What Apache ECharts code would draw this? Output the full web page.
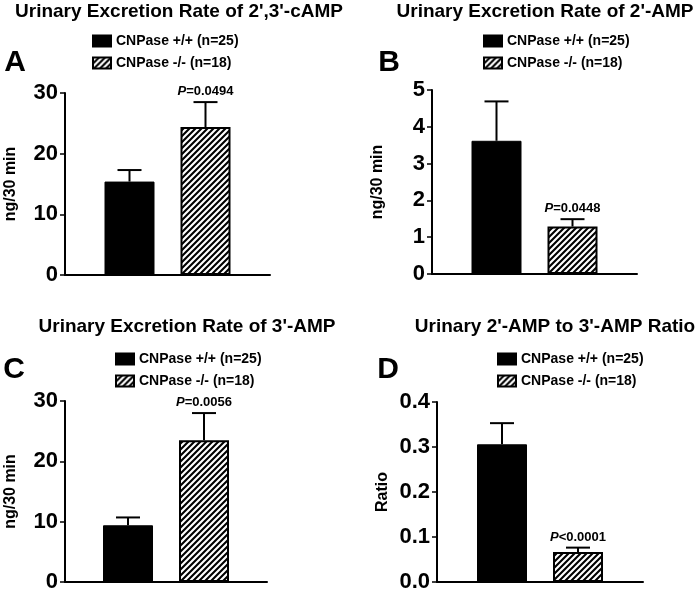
<!DOCTYPE html>
<html><head><meta charset="utf-8">
<script src="https://cdn.jsdelivr.net/npm/echarts@6/dist/echarts.min.js"></script>
<style>html,body{margin:0;padding:0;background:#fff}#c{width:700px;height:593px}</style>
</head><body><div id="c"></div>
<script>
// ---- data ----
const groups = ['CNPase +/+ (n=25)', 'CNPase -/- (n=18)'];
const panelTitles = ["Urinary Excretion Rate of 2',3'-cAMP", "Urinary Excretion Rate of 2'-AMP", "Urinary Excretion Rate of 3'-AMP", "Urinary 2'-AMP to 3'-AMP Ratio"];
const panelLetters = ['A', 'B', 'C', 'D'];
const yNames = ['ng/30 min', 'ng/30 min', 'ng/30 min', 'Ratio'];
const yMax = [30, 5, 30, 0.4];
const yInterval = [10, 1, 10, 0.1];
const yDecimals = [0, 0, 0, 1];
const meanWT = [15.4, 3.62, 9.4, 0.306];
const semWT = [1.9, 1.07, 1.3, 0.047];
const meanKO = [24.4, 1.29, 23.5, 0.0667];
const semKO = [4.1, 0.2, 4.5, 0.0097];
const pLabels = ['=0.0494', '=0.0448', '=0.0056', '<0.0001'];

// ---- layout / style ----
const FONT = 'Liberation Sans, Arial, sans-serif';
const grids = [
  {left: 65, top: 93, width: 205, height: 182},
  {left: 432, top: 90, width: 205, height: 184},
  {left: 65, top: 401, width: 202, height: 181},
  {left: 437, top: 402, width: 206, height: 180}
];
const titlePos = [[179, 12], [545, 12], [187, 327], [555, 327]];
const letterPos = [[15, 63], [389, 63], [14, 370], [388, 370]];
const legendPos = [[87, 29], [478, 29], [110, 347], [492, 347]];
const BAR_W = 50, BAR_GAP = 26, CAP = 24;
const OFFSET = (BAR_W + BAR_GAP) / 2;

function hatch() {
  const s = 6;
  const c = document.createElement('canvas');
  c.width = c.height = s;
  const g = c.getContext('2d');
  g.fillStyle = '#fff'; g.fillRect(0, 0, s, s);
  g.strokeStyle = '#000'; g.lineWidth = 2.1;
  g.beginPath();
  g.moveTo(0, s); g.lineTo(s, 0);
  g.moveTo(-1, 1); g.lineTo(1, -1);
  g.moveTo(s - 1, s + 1); g.lineTo(s + 1, s - 1);
  g.stroke();
  return c;
}
const pattern = {image: hatch(), repeat: 'repeat'};

const option = {
  backgroundColor: '#fff',
  animation: false,
  textStyle: {fontFamily: FONT},
  grid: grids,
  legend: legendPos.map((p, i) => ({
    data: groups, orient: 'vertical', left: p[0], top: p[1],
    itemWidth: 18, itemHeight: 11, itemGap: 8, icon: 'rect',
    textStyle: {fontFamily: FONT, fontSize: 14, fontWeight: 'bold', color: '#000'},
    selectedMode: false
  })),
  xAxis: grids.map((g, i) => ({
    type: 'category', gridIndex: i, data: [''],
    axisLine: {lineStyle: {color: '#000', width: 2}},
    axisTick: {show: false}, axisLabel: {show: false}
  })),
  yAxis: grids.map((g, i) => ({
    type: 'value', gridIndex: i, min: 0, max: yMax[i], interval: yInterval[i],
    name: yNames[i], nameLocation: 'middle', nameGap: 46,
    nameTextStyle: {fontFamily: FONT, fontSize: 16, fontWeight: 'bold', color: '#000'},
    axisLine: {show: true, lineStyle: {color: '#000', width: 2}},
    axisTick: {show: true, length: 5, lineStyle: {color: '#000', width: 1.5}},
    axisLabel: {fontFamily: FONT, fontSize: 22, fontWeight: 'bold', color: '#000', margin: 7,
      formatter: v => v.toFixed(yDecimals[i])},
    splitLine: {show: false}
  })),
  graphic: [].concat(
    panelTitles.map((t, i) => ({type: 'text', x: titlePos[i][0], y: titlePos[i][1],
      style: {text: t, font: 'bold 19px ' + FONT, fill: '#000', textAlign: 'center', textVerticalAlign: 'middle'}})),
    panelLetters.map((t, i) => ({type: 'text', x: letterPos[i][0], y: letterPos[i][1],
      style: {text: t, font: 'bold 30px ' + FONT, fill: '#000', textAlign: 'center', textVerticalAlign: 'middle'}}))
  ),
  series: []
};

grids.forEach((g, i) => {
  option.series.push({
    type: 'bar', name: groups[0], xAxisIndex: i, yAxisIndex: i,
    data: [meanWT[i]], barWidth: BAR_W, barGap: (BAR_GAP / BAR_W * 100) + '%',
    itemStyle: {color: '#000', borderColor: '#000', borderWidth: 1}
  });
  option.series.push({
    type: 'bar', name: groups[1], xAxisIndex: i, yAxisIndex: i,
    data: [meanKO[i]], barWidth: BAR_W, barGap: (BAR_GAP / BAR_W * 100) + '%',
    itemStyle: {color: pattern, borderColor: '#000', borderWidth: 2}
  });
  option.series.push({
    type: 'custom', xAxisIndex: i, yAxisIndex: i, z: 5,
    data: [[0, meanWT[i], semWT[i], 0], [0, meanKO[i], semKO[i], 1]],
    renderItem: (params, api) => {
      const idx = api.value(3);
      const mean = api.value(1), sem = api.value(2);
      const base = api.coord([0, mean]);
      const top = api.coord([0, mean + sem]);
      const x = base[0] + (idx === 0 ? -OFFSET : OFFSET);
      const children = [
        {type: 'line', shape: {x1: x, y1: base[1], x2: x, y2: top[1]}, style: {stroke: '#000', lineWidth: 2}},
        {type: 'line', shape: {x1: x - CAP / 2, y1: top[1], x2: x + CAP / 2, y2: top[1]}, style: {stroke: '#000', lineWidth: 2}}
      ];
      if (idx === 1) {
        children.push({type: 'text', x: x, y: top[1] - 4, style: {
          text: '{i|P}{b|' + pLabels[i] + '}', align: 'center', verticalAlign: 'bottom',
          rich: {
            i: {fontFamily: FONT, fontSize: 13, fontWeight: 'bold', fontStyle: 'italic', fill: '#000'},
            b: {fontFamily: FONT, fontSize: 13, fontWeight: 'bold', fill: '#000'}
          }
        }});
      }
      return {type: 'group', children: children};
    }
  });
});

const chart = echarts.init(document.getElementById('c'), null, {renderer: 'canvas'});
chart.setOption(option);
</script>
</body></html>
